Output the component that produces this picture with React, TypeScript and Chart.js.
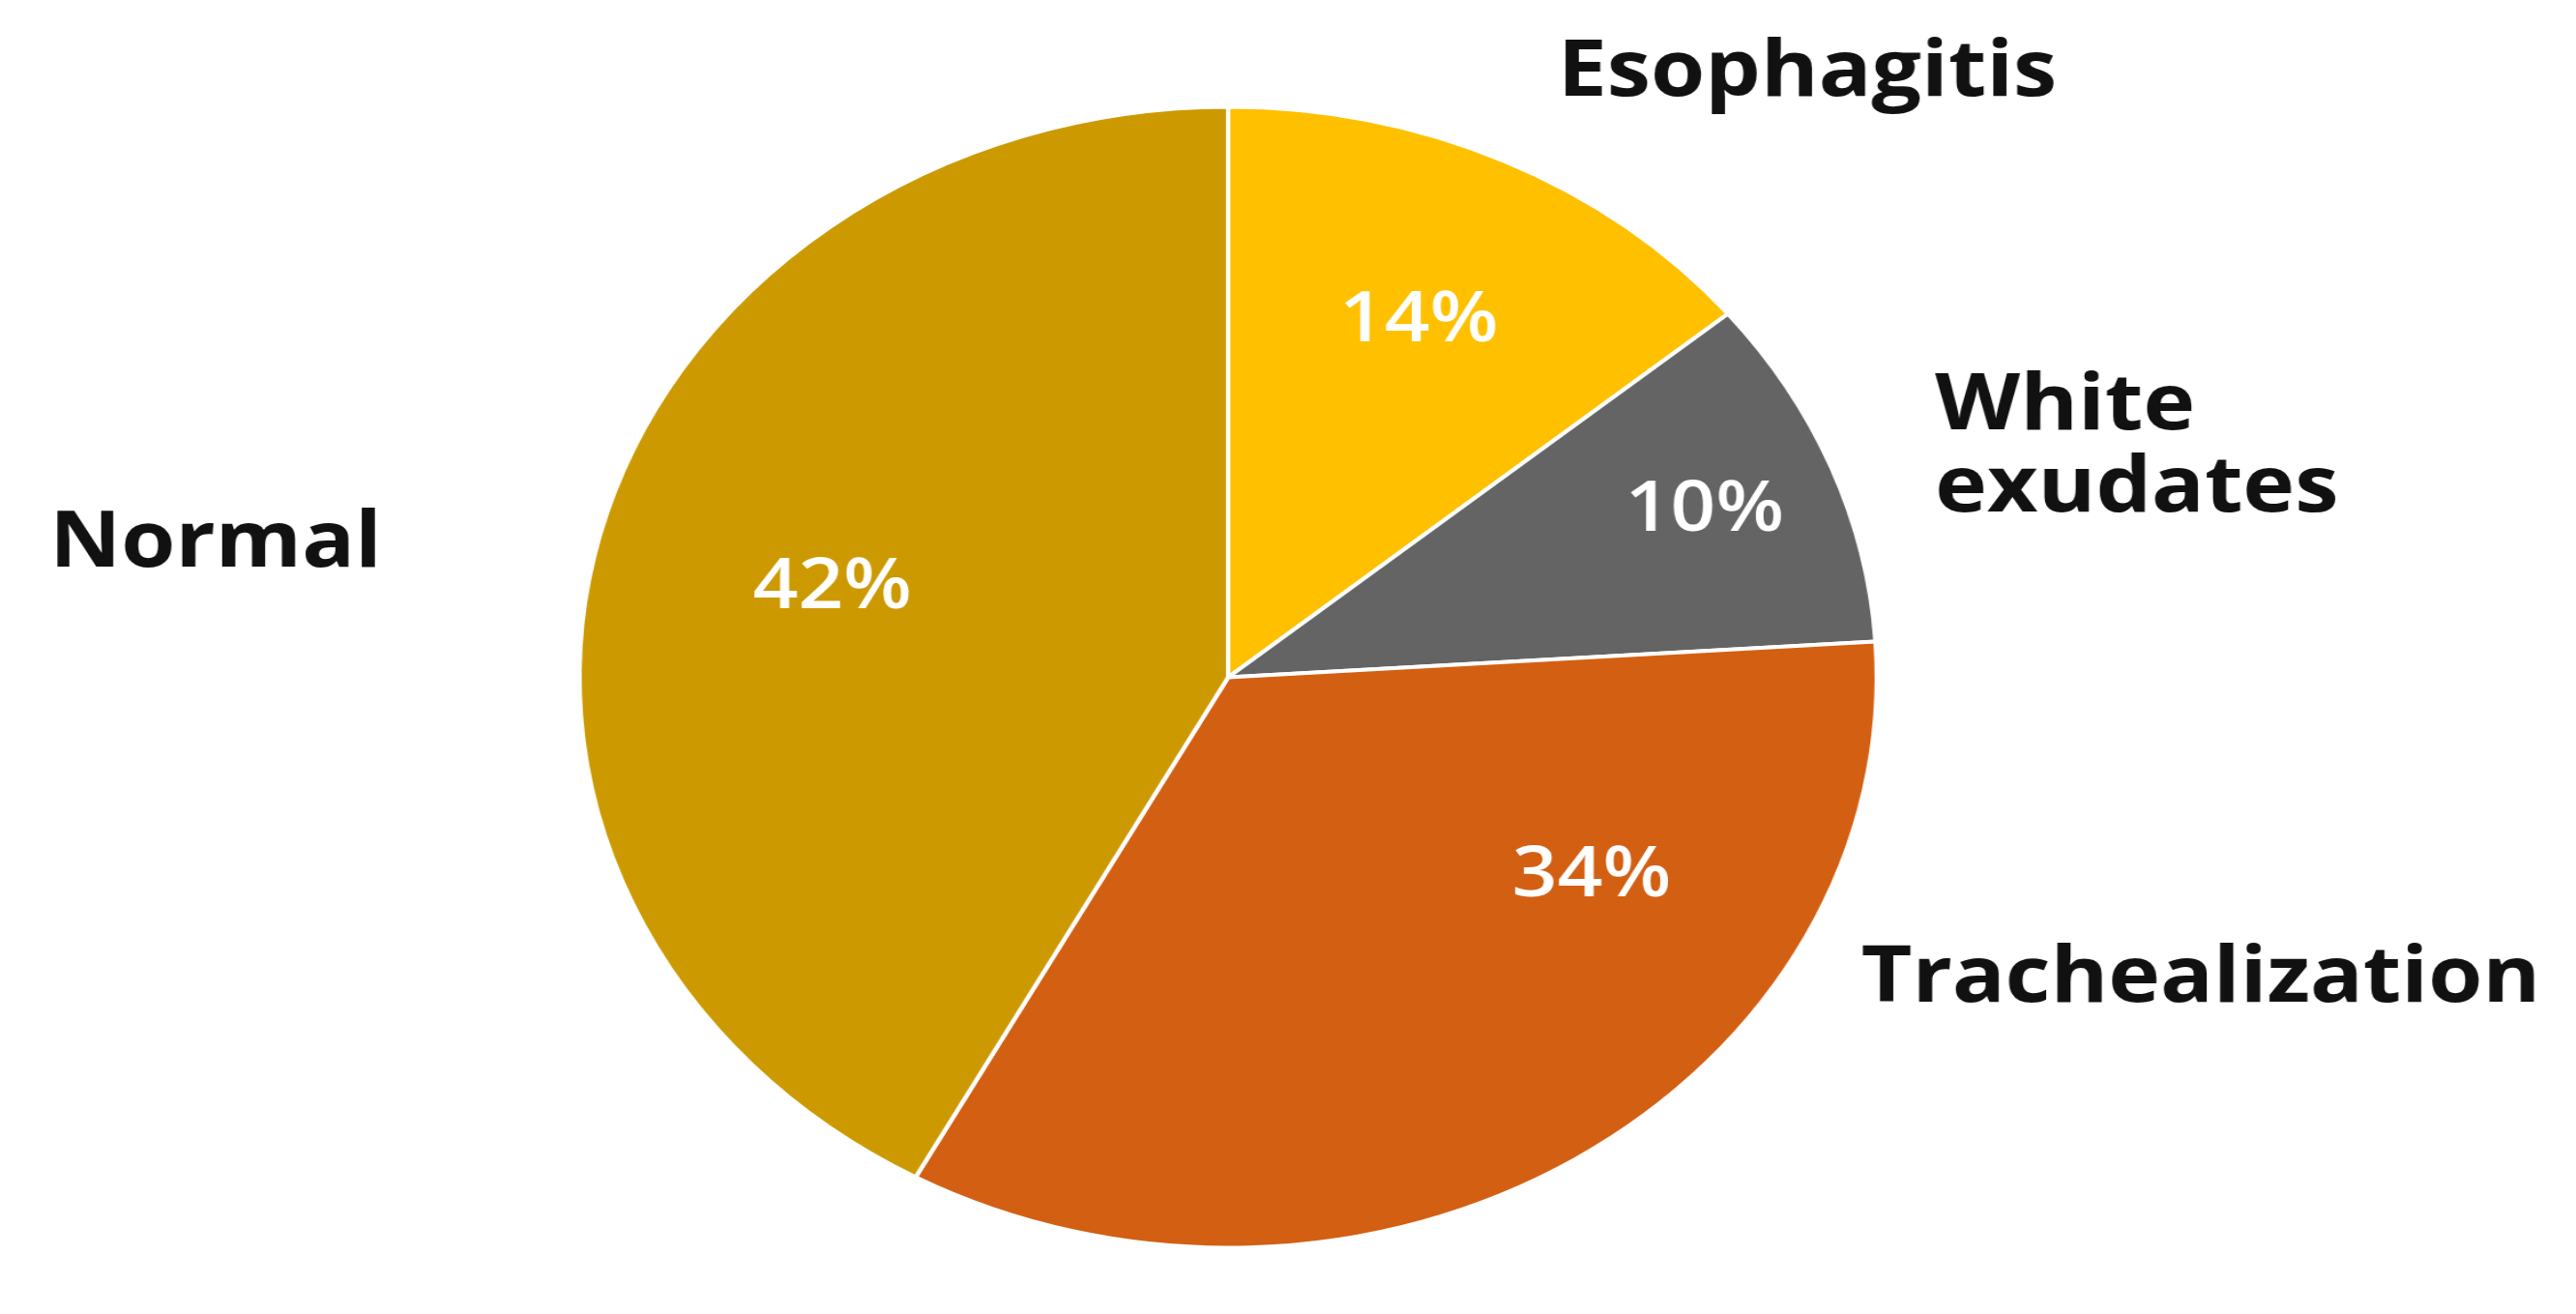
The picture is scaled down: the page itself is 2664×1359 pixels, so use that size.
import React, { useEffect, useRef } from "react";
import { Chart, registerables } from "chart.js";

Chart.register(...registerables);

// ---- data ----
const categories = ["Esophagitis", "White exudates", "Trachealization", "Normal"];
const percentages = [14, 10, 34, 42];
const categoryLabelLines = [["Esophagitis"], ["White", "exudates"], ["Trachealization"], ["Normal"]];

// ---- styles / layout ----
const COLORS = ["#FFC000", "#646464", "#D35F12", "#CC9A00"];
const STRETCH = 1.137; // the reference is horizontally stretched
const CANVAS_W = Math.round(2648 / STRETCH);
const CANVAS_H = 1340;
const PIE_RADIUS = 590;
// percent label placement: distance from centre (fraction of radius) and position along the slice
const PCT_RADIUS = [0.69, 0.79, 0.66, 0.63];
const PCT_ANGLE_FRAC = [0.5, 0.5, 0.29, 0.5];
// category label anchor (left, middle) relative to centre, in radius units
const CAT_OFFSET = [
  [0.508, -1.058],
  [1.09, -0.402],
  [0.976, 0.53],
  [-1.817, -0.232],
];
const CAT_LINE_H = 85;

const labelPlugin = {
  id: "pieLabels",
  afterDraw(chart: any) {
    const ctx = chart.ctx;
    const meta = chart.getDatasetMeta(0);
    ctx.save();
    meta.data.forEach((arc: any, i: number) => {
      const p = arc.getProps(["x", "y", "startAngle", "endAngle", "outerRadius"], true);
      const ang = p.startAngle + (p.endAngle - p.startAngle) * PCT_ANGLE_FRAC[i];
      const r = p.outerRadius * PCT_RADIUS[i];
      ctx.fillStyle = "#ffffff";
      ctx.font = "600 72px 'Open Sans'";
      ctx.textAlign = "center";
      ctx.textBaseline = "middle";
      ctx.fillText(`${percentages[i]}%`, p.x + Math.cos(ang) * r, p.y + Math.sin(ang) * r);

      const [ox, oy] = CAT_OFFSET[i];
      const lines = categoryLabelLines[i];
      ctx.fillStyle = "#111111";
      ctx.font = "bold 80px 'Open Sans'";
      ctx.textAlign = "left";
      const baseX = p.x + ox * p.outerRadius;
      const baseY = p.y + oy * p.outerRadius - ((lines.length - 1) * CAT_LINE_H) / 2;
      lines.forEach((ln: string, k: number) => {
        ctx.fillText(ln, baseX, baseY + k * CAT_LINE_H);
      });
    });
    ctx.restore();
  },
};

export default function App() {
  const ref = useRef<HTMLCanvasElement | null>(null);
  useEffect(() => {
    if (!ref.current) return;
    const chart = new Chart(ref.current, {
      type: "pie",
      data: {
        labels: categories,
        datasets: [
          {
            data: percentages,
            backgroundColor: COLORS,
            borderColor: "#ffffff",
            borderWidth: 4,
            radius: PIE_RADIUS,
          } as any,
        ],
      },
      options: {
        responsive: false,
        animation: false,
        devicePixelRatio: 1,
        layout: { padding: { left: 0, right: 109, top: 45, bottom: 0 } },
        plugins: {
          legend: { display: false },
          tooltip: { enabled: false },
        },
      },
      plugins: [labelPlugin],
    });
    return () => chart.destroy();
  }, []);
  return (
    <div style={{ width: 2648, height: CANVAS_H, overflow: "hidden", background: "#fff" }}>
      <canvas
        ref={ref}
        width={CANVAS_W}
        height={CANVAS_H}
        style={{ display: "block", transform: `scaleX(${STRETCH})`, transformOrigin: "0 0" }}
      />
    </div>
  );
}
